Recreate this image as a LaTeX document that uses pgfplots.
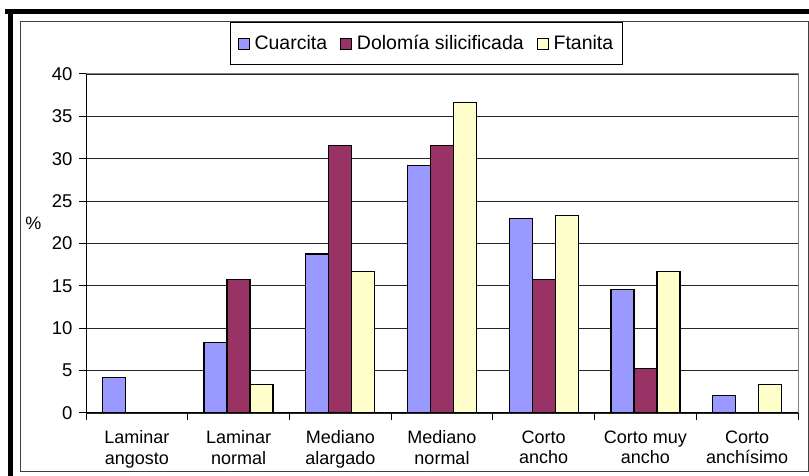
\documentclass[border=0pt]{standalone}
\usepackage{fontspec}
\setmainfont{Liberation Sans}
\usepackage{pgfplots}
\pgfplotsset{compat=1.18}
\definecolor{cuar}{RGB}{153,153,255}
\definecolor{dolo}{RGB}{153,51,102}
\definecolor{ftan}{RGB}{255,255,204}
\begin{document}
\begin{tikzpicture}[x=1pt,y=1pt]
\useasboundingbox (0,0) rectangle (809,476);
\fill[white] (0,0) rectangle (809,476);
\draw[black!75, line width=1pt] (20,4) rectangle (808,454);
\draw[black, line width=5pt] (5,464.5) -- (809,464.5);
\draw[black, line width=5pt] (10,0) -- (10,467);
\begin{axis}[
  at={(86pt,63pt)}, anchor=south west,
  scale only axis, width=712pt, height=339pt,
  ybar=0pt, bar width=23pt,
  xmin=-0.5, xmax=6.5, ymin=0, ymax=40,
  ytick={0,5,...,40},
  xtick={-0.5,0.5,...,6.5},
  xticklabels={},
  extra x ticks={0,1,2,3,4,5,6},
  extra x tick labels={{Laminar\\angosto},{Laminar\\normal},{Mediano\\alargado},{Mediano\\normal},{Corto\\ancho},{Corto muy\\ancho},{Corto\\anchísimo}},
  extra x tick style={major tick length=0pt, xticklabel style={align=center, font=\fontsize{18}{20.5}\selectfont, yshift=-14pt}},
  tick align=outside, tick pos=left,
  major tick length=7pt,
  tick style={black, line width=1pt},
  ymajorgrids, major grid style={black!85, line width=0.8pt},
  axis line style={draw=black!50, line width=1pt},
  yticklabel style={font=\fontsize{18.5}{20}\selectfont, xshift=-3pt},
  /pgf/number format/assume math mode=true,
  ylabel={\%},
  ylabel style={rotate=-90, at={(axis description cs:-0.074,0.56)}, anchor=center, font=\fontsize{18}{20}\selectfont},
  legend style={at={(0.4782,1.09)}, anchor=center, draw=black, line width=0.8pt,
    font=\fontsize{19.5}{22}\selectfont, inner xsep=7pt, inner ysep=11pt,
    /tikz/every odd column/.append style={column sep=3pt},
    /tikz/every even column/.append style={column sep=11pt}},
  legend columns=3,
  legend image code/.code={\draw[#1,draw=black,line width=0.8pt] (0pt,-5.5pt) rectangle (11pt,5.5pt);},
]
\addplot[fill=cuar, draw=black, line width=1.3pt] coordinates {(0,4.17)(1,8.33)(2,18.75)(3,29.17)(4,22.92)(5,14.58)(6,2.08)};
\addplot[fill=dolo, draw=black, line width=1.3pt] coordinates {(1,15.79)(2,31.58)(3,31.58)(4,15.79)(5,5.26)};
\addplot[fill=ftan, draw=black, line width=1.3pt] coordinates {(1,3.33)(2,16.67)(3,36.67)(4,23.33)(5,16.67)(6,3.33)};
\legend{Cuarcita, Dolomía silicificada, Ftanita}
\draw[black, line width=1pt] (rel axis cs:0,1) -- (rel axis cs:0,0) -- (rel axis cs:1,0);
\end{axis}
\end{tikzpicture}
\end{document}
